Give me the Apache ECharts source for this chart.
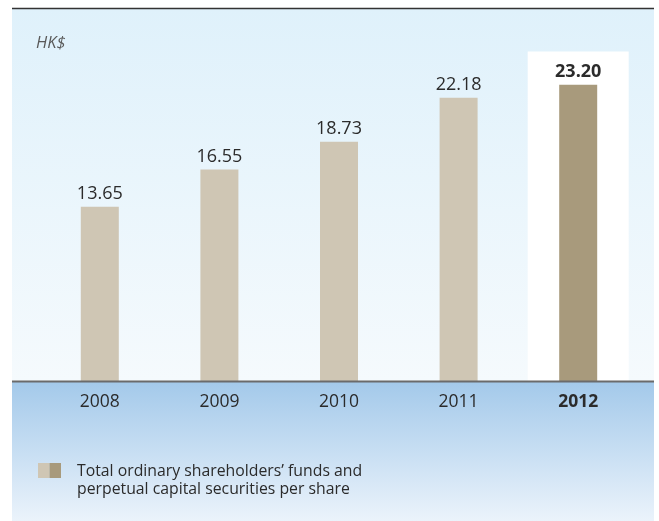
<!DOCTYPE html>
<html>
<head>
<meta charset="utf-8">
<script src="https://cdn.jsdelivr.net/npm/echarts@6/dist/echarts.min.js"></script>
<style>
  html, body { margin: 0; padding: 0; background: #fff; }
  #main { width: 659px; height: 521px; }
</style>
</head>
<body>
<div id="main"></div>
<script>
const years = ["2008", "2009", "2010", "2011", "2012"];
const perShare = [13.65, 16.55, 18.73, 22.18, 23.2];
// white backdrop behind the latest year
const highlight = [null, null, null, null, 25.8];
const legendText = "Total ordinary shareholders\u2019 funds and\nperpetual capital securities per share";

const FONT = "Open Sans";
const chart = echarts.init(document.getElementById("main"));

const option = {
  animation: false,
  backgroundColor: "#fff",
  graphic: [
    {
      type: "rect", z: -10, silent: true,
      shape: { x: 12, y: 8, width: 642, height: 373 },
      style: {
        fill: new echarts.graphic.LinearGradient(0, 0, 0, 1, [
          { offset: 0, color: "#dff1fb" },
          { offset: 1, color: "#f5fafd" }
        ])
      }
    },
    {
      type: "rect", z: -10, silent: true,
      shape: { x: 12, y: 381, width: 642, height: 140 },
      style: {
        fill: new echarts.graphic.LinearGradient(0, 0, 0, 1, [
          { offset: 0, color: "#a3c9ea" },
          { offset: 1, color: "#ebf3fb" }
        ])
      }
    },
    {
      type: "line", z: 10, silent: true,
      shape: { x1: 12, y1: 8.5, x2: 654, y2: 8.5 },
      style: { stroke: "#333", lineWidth: 1.5 }
    },
    {
      type: "line", z: 10, silent: true,
      shape: { x1: 12, y1: 381.5, x2: 654, y2: 381.5 },
      style: { stroke: "#6b6b6b", lineWidth: 2 }
    },
    {
      type: "text", left: 36, top: 35,
      style: { text: "HK$", font: "italic 16.5px " + FONT, fill: "#5a5a5a" }
    },
    {
      type: "rect", silent: true,
      shape: { x: 38, y: 463, width: 11.5, height: 15 },
      style: { fill: "#cfc6b4" }
    },
    {
      type: "rect", silent: true,
      shape: { x: 49.5, y: 463, width: 11.5, height: 15 },
      style: { fill: "#a89a7c" }
    },
    {
      type: "text", left: 77, top: 462,
      style: { text: legendText, font: "15.8px " + FONT, fill: "#2b2b2b", lineHeight: 18 }
    }
  ],
  grid: { left: 40, right: 21, top: 8, bottom: 140 },
  xAxis: [
    {
      type: "category",
      data: years,
      axisLine: { show: false },
      axisTick: { show: false },
      axisLabel: {
        margin: 12,
        fontFamily: FONT,
        fontSize: 17.5,
        color: "#2b2b2b",
        formatter: function (v) {
          return v === "2012" ? "{b|" + v + "}" : v;
        },
        rich: { b: { fontFamily: FONT, fontSize: 17.5, fontWeight: "bold", color: "#2b2b2b" } }
      }
    },
    {
      type: "category",
      data: years,
      show: false
    }
  ],
  yAxis: {
    type: "value",
    min: 0,
    max: 29.2,
    show: false,
    splitLine: { show: false }
  },
  series: [
    {
      type: "bar",
      xAxisIndex: 1,
      data: highlight,
      barWidth: 101,
      silent: true,
      z: 1,
      itemStyle: { color: "#ffffff" }
    },
    {
      type: "bar",
      xAxisIndex: 0,
      data: perShare.map(function (v, i) {
        const last = i === perShare.length - 1;
        return {
          value: v,
          itemStyle: { color: last ? "#a89a7c" : "#cfc6b4" },
          label: last ? { fontWeight: "bold" } : {}
        };
      }),
      barWidth: 38,
      z: 2,
      label: {
        show: true,
        position: "top",
        distance: 4,
        fontFamily: FONT,
        fontSize: 18,
        color: "#2b2b2b",
        formatter: function (p) { return p.value.toFixed(2); }
      }
    }
  ]
};

chart.setOption(option);
</script>
</body>
</html>
